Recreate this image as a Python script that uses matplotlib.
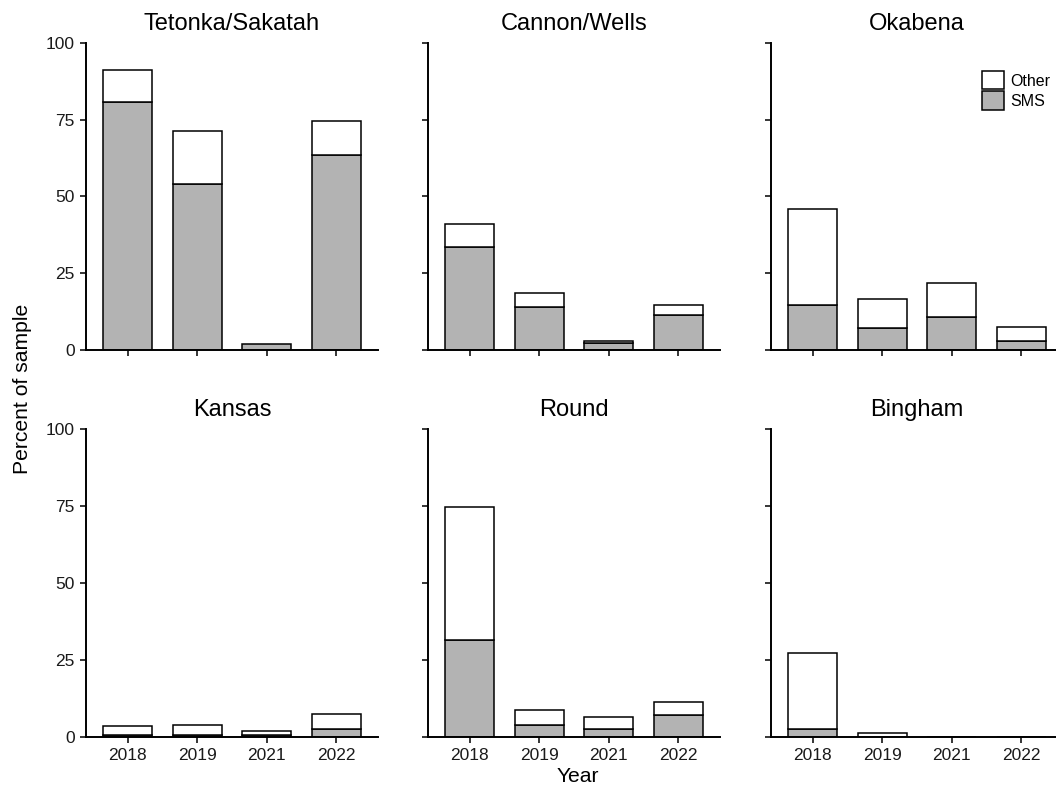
import matplotlib
matplotlib.use("Agg")
import matplotlib.pyplot as plt
from matplotlib.patches import Patch
import numpy as np

plt.rcParams['font.family'] = ['Liberation Sans', 'DejaVu Sans']

years = ["2018", "2019", "2021", "2022"]
lakes = ["Tetonka/Sakatah", "Cannon/Wells", "Okabena", "Kansas", "Round", "Bingham"]

# Percent of sample identified as SMS, and total percent (SMS + Other)
sms = {
    "Tetonka/Sakatah": [80.8, 54.1, 2.0, 63.5],
    "Cannon/Wells":    [33.6, 14.0, 2.2, 11.4],
    "Okabena":         [14.8, 7.3, 10.7, 3.0],
    "Kansas":          [0.6, 0.6, 0.5, 2.6],
    "Round":           [31.5, 3.8, 2.7, 7.0],
    "Bingham":         [2.5, 0.0, 0.0, 0.0],
}
total = {
    "Tetonka/Sakatah": [91.2, 71.3, 2.0, 74.6],
    "Cannon/Wells":    [41.0, 18.6, 3.0, 14.7],
    "Okabena":         [45.8, 16.5, 21.9, 7.4],
    "Kansas":          [3.6, 3.8, 1.9, 7.5],
    "Round":           [74.7, 8.8, 6.6, 11.3],
    "Bingham":         [27.2, 1.3, 0.0, 0.0],
}

W, H = 1056, 790
fig = plt.figure(figsize=(W / 100, H / 100), dpi=100)

gray = "#b3b3b3"
lefts = [86, 428, 771]
panel_w = 292
rows = [(43, 350), (429, 737)]

x = np.arange(len(years))
for i, lake in enumerate(lakes):
    r, c = divmod(i, 3)
    top, bot = rows[r]
    ax = fig.add_axes([lefts[c] / W, 1 - bot / H, panel_w / W, (bot - top) / H])
    s = np.array(sms[lake])
    t = np.array(total[lake])
    other = t - s
    ax.bar(x, s, width=0.7, color=gray, edgecolor="black", linewidth=1.1, zorder=2)
    mask = other > 0
    ax.bar(x[mask], other[mask], bottom=s[mask], width=0.7, color="white",
           edgecolor="black", linewidth=1.1, zorder=2)
    ax.set_xlim(-0.6, 3.6)
    ax.set_ylim(0, 100)
    ax.set_yticks([0, 25, 50, 75, 100])
    ax.set_xticks(x)
    for sp in ["top", "right"]:
        ax.spines[sp].set_visible(False)
    for sp in ["left", "bottom"]:
        ax.spines[sp].set_linewidth(1.4)
        ax.spines[sp].set_color("black")
    ax.tick_params(direction="out", length=4, width=1.1, colors="black",
                   labelsize=12.5, labelcolor="#1a1a1a", pad=4)
    if r == 0:
        ax.set_xticklabels([])
    else:
        ax.set_xticklabels(years)
    if c != 0:
        ax.set_yticklabels([])
    ax.set_title(lake, fontsize=17, pad=9.4)

fig.text(23 / W, 1 - 389 / H, "Percent of sample", rotation=90, ha="center",
         va="center", fontsize=15.2)
fig.text(578 / W, 1 - 777 / H, "Year", ha="center", va="center", fontsize=15.2)

handles = [Patch(facecolor="white", edgecolor="black", linewidth=1.1, label="Other"),
           Patch(facecolor=gray, edgecolor="black", linewidth=1.1, label="SMS")]
fig.legend(handles=handles, loc="upper left", bbox_to_anchor=(982 / W, 1 - 71 / H),
           frameon=False, fontsize=11.5, handlelength=1.35, handleheight=1.4,
           handletextpad=0.4, labelspacing=0.12, borderpad=0, borderaxespad=0)

fig.savefig("out.png", dpi=100)
